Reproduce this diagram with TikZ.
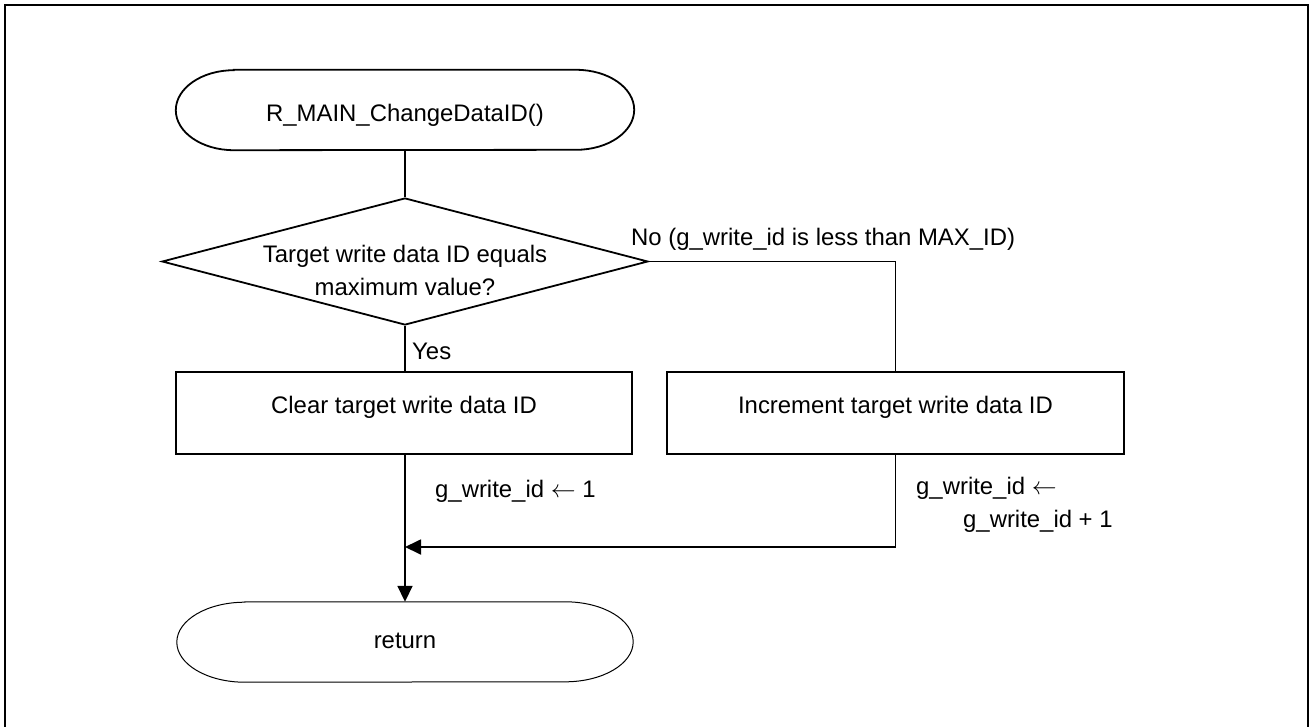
\documentclass[tikz,border=0pt]{standalone}
\usepackage{fontspec}
\setmainfont{Liberation Sans}
\usetikzlibrary{arrows.meta,shapes.geometric}
\newcommand\drawterm[3]{%
  \draw[#3] (#1.north west) -- (#1.north east)
    arc[start angle=90,end angle=-90,x radius=#2,y radius=40pt]
    -- (#1.south west)
    arc[start angle=270,end angle=90,x radius=#2,y radius=40pt] -- cycle;}
\tikzset{
  txt/.style={font=\fontsize{23.9pt}{33pt}\selectfont, inner sep=0pt},
  termbox/.style={txt, rectangle, minimum height=80pt},
  procbox/.style={txt, rectangle, draw, line width=1.8pt, minimum height=82pt,
    text height=10pt, text depth=10pt},
  decbox/.style={diamond, draw, line width=1.8pt, inner sep=0pt,
    minimum width=486pt, minimum height=127pt},
  conn/.style={line width=1.8pt},
  arr/.style={line width=1.8pt, -{Triangle[length=16pt,width=15pt]}},
  lbl/.style={txt, anchor=west},
}
\begin{document}
\begin{tikzpicture}[x=1pt,y=-1pt]
\useasboundingbox (0,0) rectangle (1310,726);
\draw[line width=2pt] (5,740) -- (5,5) -- (1308,5) -- (1308,740);

\node[termbox, minimum width=342pt, text height=23pt, text depth=0pt] (start) at (405,110) {R\_MAIN\_ChangeDataID()};
\drawterm{start}{58pt}{line width=1.8pt}

\node[decbox] (dec) at (405,261.5) {};
\node[txt, align=center] (dect) at (405,270) {Target write data ID equals\\maximum value?};

\node[procbox, minimum width=456pt] (clr) at (404,413) {Clear target write data ID};
\node[procbox, minimum width=457pt] (inc) at (895.5,413) {Increment target write data ID};

\node[termbox, minimum width=320pt, text height=12pt, text depth=0pt] (ret) at (405,642) {return};
\drawterm{ret}{68pt}{line width=1pt}

\coordinate (m) at (405,547);

\draw[conn] (start.south) -- (dec.north);
\draw[conn] (dec.south) -- (dec.south |- clr.north);
\draw[conn] (dec.east) -| (inc.north);
\draw[arr] (dec.south |- clr.south) -- (ret.north);
\draw[arr] (inc.south) |- (m);

\node[lbl] (nolbl) at (631,239) {No (g\_write\_id is less than MAX\_ID)};
\node[lbl] (yeslbl) at (412,351) {Yes};
\node[lbl] (clrlbl) at (435,491) {g\_write\_id $\leftarrow$ 1};
\node[lbl, align=left] (inclbl) at (916,505) {g\_write\_id $\leftarrow$\\\hspace*{47pt}g\_write\_id + 1};
\end{tikzpicture}
\end{document}
